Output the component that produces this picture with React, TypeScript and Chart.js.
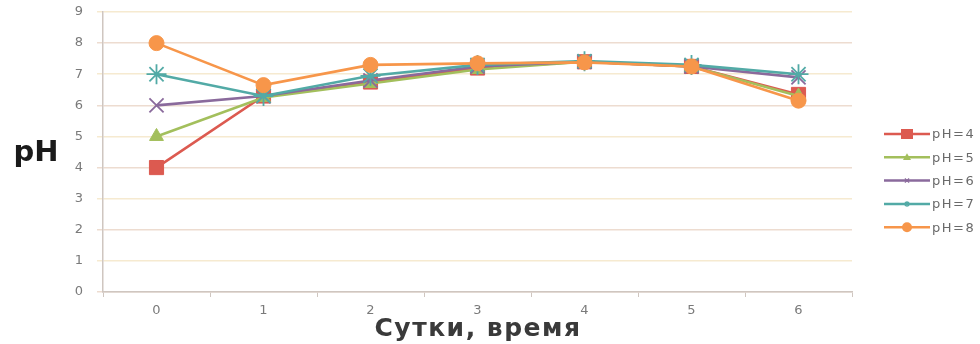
import React, { useEffect, useRef } from "react";
import { Chart, registerables } from "chart.js";

Chart.register(...registerables);

// Days of observation
const days = ["0", "1", "2", "3", "4", "5", "6"];

// pH of each culture over time, grouped by starting pH
const ph4 = [4.0, 6.3, 6.75, 7.2, 7.4, 7.25, 6.35];
const ph5 = [5.0, 6.25, 6.7, 7.15, 7.4, 7.25, 6.3];
const ph6 = [6.0, 6.3, 6.8, 7.25, 7.4, 7.25, 6.9];
const ph7 = [7.0, 6.3, 6.95, 7.3, 7.42, 7.3, 7.0];
const ph8 = [8.0, 6.65, 7.3, 7.35, 7.38, 7.25, 6.15];

const seriesNames = ["pH=4", "pH=5", "pH=6", "pH=7", "pH=8"];
const seriesValues = [ph4, ph5, ph6, ph7, ph8];
const seriesColors = ["#dc5a50", "#a3bf5c", "#8a6a9c", "#52aaa6", "#f7964a"];
const seriesMarkers = ["rect", "triangle", "crossRot", "star", "circle"];
const markerRadius = [10, 8, 10, 10, 7.5];
const legendMarkerRadius = [5, 4, 3, 3, 5];

const yTitle = "pH";
const xTitle = "Сутки, время";

// small marker for the legend swatches
function drawMarker(ctx: CanvasRenderingContext2D, style: string, x: number, y: number, r: number, color: string) {
  ctx.fillStyle = color;
  ctx.strokeStyle = color;
  ctx.lineWidth = 1.2;
  ctx.beginPath();
  if (style === "rect") {
    ctx.fillRect(x - r * 1.2, y - r, 2.4 * r, 2 * r);
  } else if (style === "triangle") {
    ctx.moveTo(x, y - r);
    ctx.lineTo(x + r, y + r * 0.7);
    ctx.lineTo(x - r, y + r * 0.7);
    ctx.closePath();
    ctx.fill();
  } else if (style === "circle") {
    ctx.arc(x, y, r, 0, Math.PI * 2);
    ctx.fill();
  } else {
    const d = r * 0.7;
    ctx.moveTo(x - d, y - d);
    ctx.lineTo(x + d, y + d);
    ctx.moveTo(x + d, y - d);
    ctx.lineTo(x - d, y + d);
    if (style === "star") {
      ctx.moveTo(x, y - r);
      ctx.lineTo(x, y + r);
    }
    ctx.stroke();
  }
}

const overlayText = {
  id: "overlayText",
  afterDraw(chart: any) {
    const { ctx } = chart;
    ctx.save();
    // axis titles
    ctx.fillStyle = "#1a1a1a";
    ctx.font = "bold 29px 'DejaVu Sans', sans-serif";
    ctx.textAlign = "center";
    ctx.textBaseline = "middle";
    ctx.fillText(yTitle, 36, 153);
    ctx.fillStyle = "#3a3a3a";
    ctx.font = "bold 25px 'DejaVu Sans', sans-serif";
    (ctx as any).letterSpacing = "1.5px";
    ctx.fillText(xTitle, 478, 329);

    // legend: line with marker, then label
    const lx = 884;
    chart.data.datasets.forEach((ds: any, i: number) => {
      const y = 134 + i * 23.3;
      ctx.strokeStyle = ds.borderColor;
      ctx.lineWidth = 2.5;
      ctx.beginPath();
      ctx.moveTo(lx, y);
      ctx.lineTo(lx + 46, y);
      ctx.stroke();
      drawMarker(ctx, ds.pointStyle, lx + 23, y, legendMarkerRadius[i], ds.borderColor);
      ctx.fillStyle = "#6a6a6a";
      ctx.font = "13px 'DejaVu Sans', sans-serif";
      (ctx as any).letterSpacing = "1.5px";
      ctx.textAlign = "left";
      ctx.textBaseline = "middle";
      ctx.fillText(ds.label, lx + 48, y + 1);
    });
    ctx.restore();
  },
};

export default function App() {
  const ref = useRef<HTMLCanvasElement>(null);

  useEffect(() => {
    if (!ref.current) return;
    const chart = new Chart(ref.current, {
      type: "line",
      data: {
        labels: days,
        datasets: seriesNames.map((name, i) => ({
          label: name,
          data: seriesValues[i],
          // later series are painted over earlier ones
          order: seriesNames.length - i,
          borderColor: seriesColors[i],
          backgroundColor: seriesColors[i],
          pointBackgroundColor: seriesColors[i],
          pointBorderColor: seriesColors[i],
          pointStyle: seriesMarkers[i] as any,
          pointRadius: markerRadius[i],
          pointBorderWidth: seriesMarkers[i] === "crossRot" || seriesMarkers[i] === "star" ? 1.8 : 1,
          borderWidth: 2.6,
          tension: 0,
          fill: false,
          clip: false as any,
        })),
      },
      options: {
        animation: false,
        responsive: false,
        maintainAspectRatio: false,
        layout: { autoPadding: false, padding: { top: 12, right: 128, left: 0, bottom: 0 } },
        plugins: {
          legend: { display: false },
          tooltip: { enabled: false },
        },
        scales: {
          x: {
            offset: true,
            grid: {
              offset: true,
              drawOnChartArea: false,
              tickLength: 5,
              color: "#cfc6c0",
            },
            border: { color: "#cfc6c0", width: 1.5 },
            ticks: {
              color: "#7a7a7a",
              font: { size: 13, family: "'DejaVu Sans', sans-serif" },
              padding: 6,
            },
            afterFit(scale: any) {
              scale.height = 52;
            },
          },
          y: {
            min: 0,
            max: 9,
            ticks: {
              stepSize: 1,
              color: "#7a7a7a",
              font: { size: 13, family: "'DejaVu Sans', sans-serif" },
              padding: 14,
            },
            grid: {
              tickLength: 6,
              lineWidth: 1.5,
              color: (c: any) =>
                c.tick && c.tick.value % 2 === 1 ? "#f6ead0" : "#eddcd0",
            },
            border: { color: "#cfc6c0", width: 1.5 },
            afterFit(scale: any) {
              scale.width = 103;
              scale.paddingTop = 8;
              scale.paddingBottom = 8;
            },
          },
        },
      },
      plugins: [overlayText],
    });
    return () => chart.destroy();
  }, []);

  return (
    <div style={{ position: "fixed", left: 0, top: 0, width: 980, height: 344, background: "#fff" }}>
      <canvas ref={ref} width={980} height={344} style={{ width: 980, height: 344 }} />
    </div>
  );
}
